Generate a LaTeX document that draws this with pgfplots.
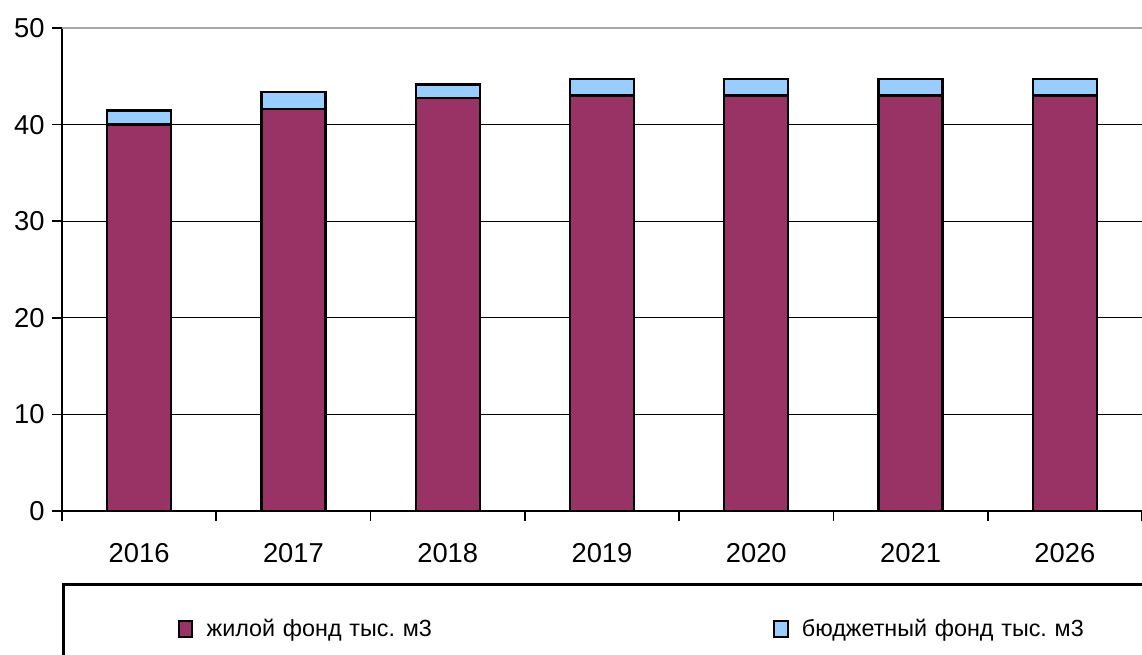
\documentclass[border=0pt]{standalone}
\usepackage{pgfplots}
\pgfplotsset{compat=1.18}
\usepackage{fontspec}
\setmainfont{Liberation Sans}
\frenchspacing
\definecolor{zhil}{HTML}{993366}
\definecolor{budg}{HTML}{99CCFF}
\begin{document}
\begin{tikzpicture}[x=1pt,y=1pt]
\useasboundingbox (-46.5,-108) rectangle (810,383.25);
\begin{axis}[
  scale only axis, width=810pt, height=362.25pt,
  at={(0,0)}, anchor=south west,
  ybar stacked, bar width=48pt,
  xmin=-0.5, xmax=6.5, ymin=0, ymax=50,
  axis x line*=bottom, axis y line*=left,
  axis line style={black, line width=1.5pt},
  ytick={0,10,20,30,40},
  extra y ticks={50},
  extra y tick style={grid style={gray!70, line width=1.2pt}},
  ymajorgrids, grid style={black, line width=0.8pt},
  xtick={0,...,6},
  xticklabels={2016,2017,2018,2019,2020,2021,2026},
  major x tick style={draw=none},
  minor xtick={-0.5,0.5,...,6.5},
  minor x tick style={black, line width=1.2pt},
  minor tick length=7.5pt,
  y tick style={black, line width=1.2pt},
  major tick length=7.5pt,
  tick align=outside,
  ticklabel style={font=\fontsize{20.5}{22}\selectfont},
  /pgf/number format/assume math mode=true,
  xticklabel style={yshift=-13pt},
  yticklabel style={xshift=-2pt},
  legend columns=2,
  legend style={at={(0,0)}, anchor=north west, yshift=-54pt,
    draw=black, line width=2pt, inner xsep=86pt, inner ysep=24pt,
    font=\fontsize{17.5}{19}\selectfont,
    nodes={text width=423pt, align=left, line width=0.8pt},
    /tikz/every odd column/.append style={column sep=8pt}},
  legend image code/.code={\draw[#1, draw=black, line width=1.5pt] (0pt,-6pt) rectangle (10pt,6pt);},
]
\addplot[fill=zhil, draw=black, line width=1.8pt] coordinates {(0,40.0) (1,41.6) (2,42.75) (3,43.0) (4,43.0) (5,43.0) (6,43.0)};
\addplot[fill=budg, draw=black, line width=1.8pt] coordinates {(0,1.45) (1,1.75) (2,1.4) (3,1.7) (4,1.7) (5,1.7) (6,1.7)};
\legend{жилой фонд тыс. м3, бюджетный фонд тыс. м3}
\end{axis}
\end{tikzpicture}
\end{document}
